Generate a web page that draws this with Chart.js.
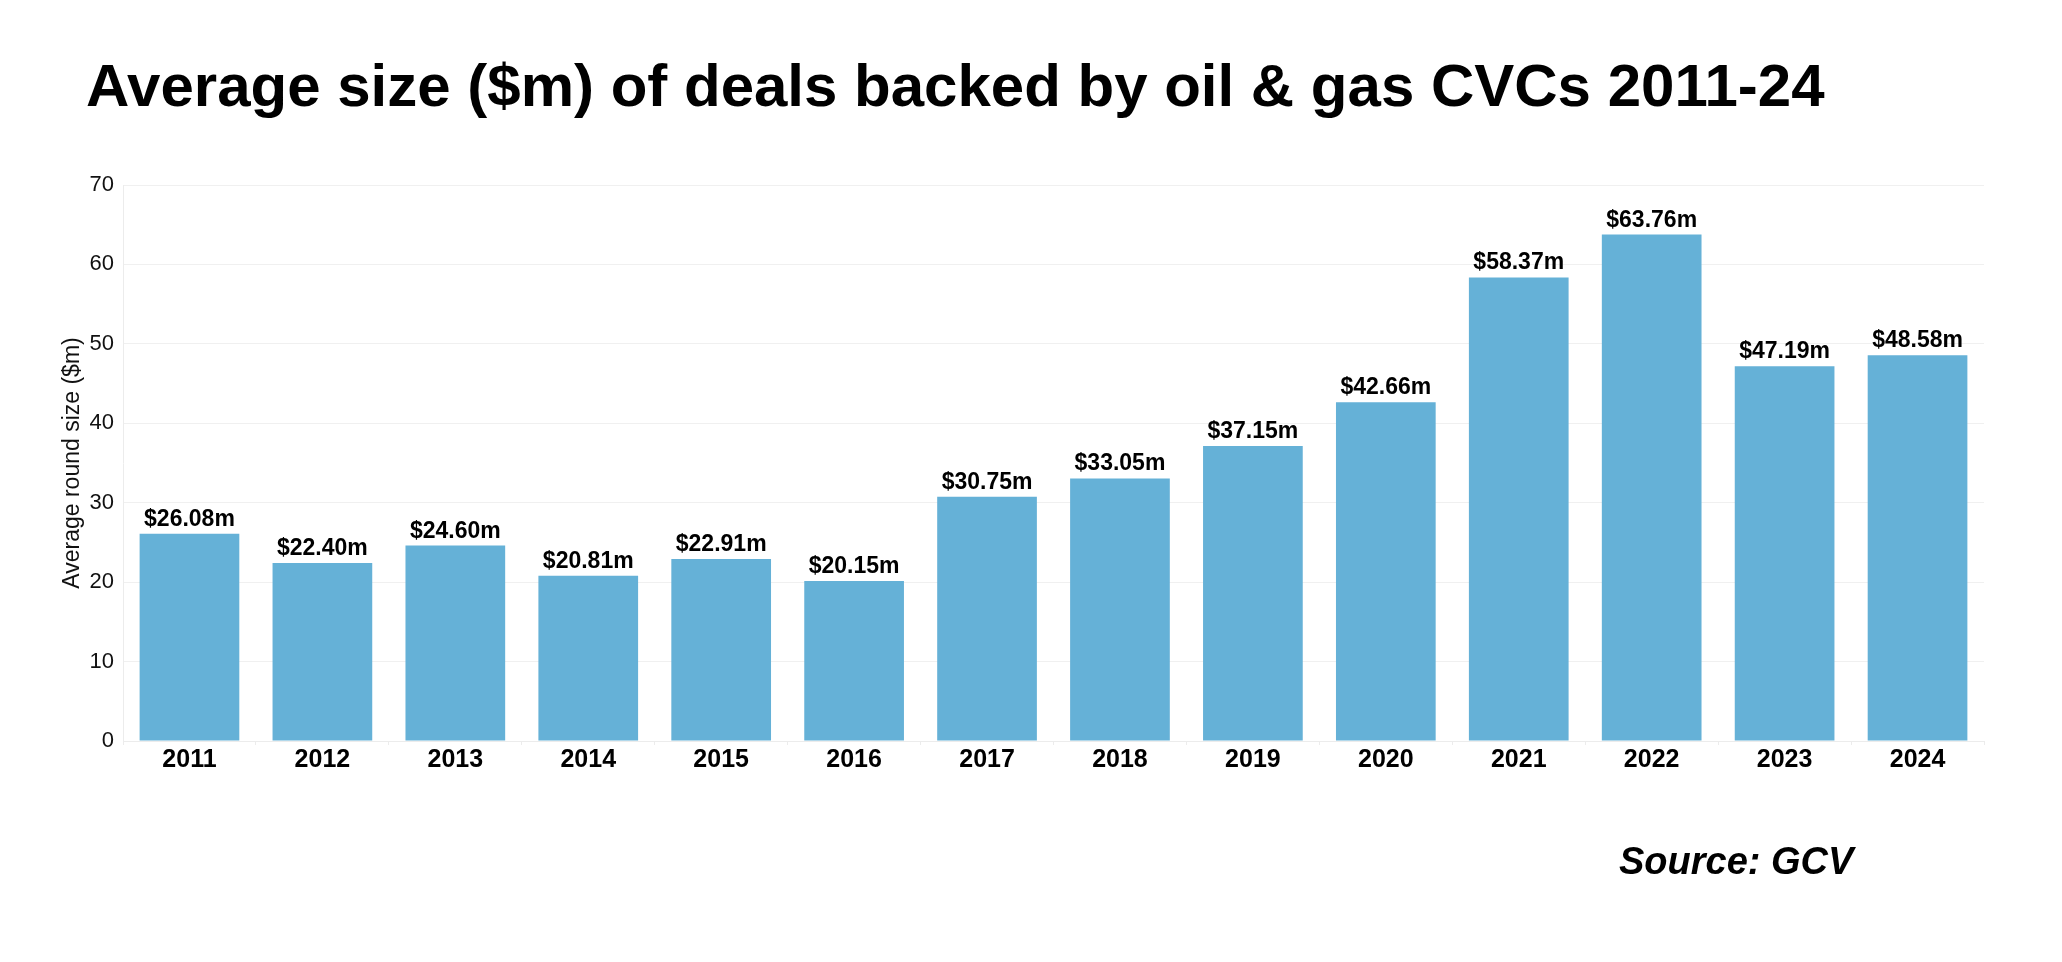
<!DOCTYPE html>
<html>
<head>
<meta charset="utf-8">
<script src="https://cdn.jsdelivr.net/npm/chart.js@4.4.1/dist/chart.umd.min.js"></script>
<style>
  html, body { margin: 0; padding: 0; background: #ffffff; }
  #wrap { width: 2062px; height: 962px; position: relative; }
  canvas { display: block; }
</style>
</head>
<body>
<div id="wrap"><canvas id="c" width="2062" height="962"></canvas></div>
<script>
const titleText = "Average size ($m) of deals backed by oil & gas CVCs 2011-24";
const sourceText = "Source: GCV";
const yAxisTitle = "Average round size ($m)";
const years = ["2011","2012","2013","2014","2015","2016","2017","2018","2019","2020","2021","2022","2023","2024"];
const avgSize = [26.08, 22.40, 24.60, 20.81, 22.91, 20.15, 30.75, 33.05, 37.15, 42.66, 58.37, 63.76, 47.19, 48.58];
const yTicksMin = 0, yTicksMax = 70, yTicksStep = 10;

const FONT = "'Liberation Sans', Arial, Helvetica, sans-serif";
const BAR = "#65b1d7";

const textPlugin = {
  id: 'textPlugin',
  afterDraw(chart) {
    const ctx = chart.ctx;
    ctx.save();
    ctx.fillStyle = "#000000";
    ctx.textAlign = "left";
    ctx.textBaseline = "alphabetic";
    ctx.font = "bold 60px " + FONT;
    ctx.fillText(titleText, 86, 106);
    ctx.font = "italic bold 38px " + FONT;
    ctx.fillText(sourceText, 1619, 874);
    ctx.restore();
  }
};

const valueLabels = {
  id: 'valueLabels',
  afterDatasetsDraw(chart) {
    const ctx = chart.ctx;
    const meta = chart.getDatasetMeta(0);
    ctx.save();
    ctx.fillStyle = "#000000";
    ctx.font = "bold 23px " + FONT;
    ctx.textAlign = "center";
    ctx.textBaseline = "alphabetic";
    meta.data.forEach((bar, i) => {
      const v = chart.data.datasets[0].data[i];
      ctx.fillText("$" + v.toFixed(2) + "m", bar.x, bar.y - 8);
    });
    ctx.restore();
  }
};

new Chart(document.getElementById('c'), {
  type: 'bar',
  data: {
    labels: years,
    datasets: [{
      data: avgSize,
      backgroundColor: BAR,
      borderWidth: 0,
      barPercentage: 0.75,
      categoryPercentage: 1.0
    }]
  },
  options: {
    responsive: false,
    devicePixelRatio: 1,
    animation: false,
    layout: { padding: { top: 185, right: 78, bottom: 181, left: 0 } },
    plugins: {
      legend: { display: false },
      title: { display: false },
      tooltip: { enabled: false }
    },
    scales: {
      x: {
        grid: { display: true, drawOnChartArea: false, drawTicks: true, tickLength: 4, color: "#ececec", offset: true },
        border: { display: true, color: "#ececec" },
        ticks: { color: "#000000", font: { family: FONT, size: 25, weight: 'bold' }, padding: 0, maxRotation: 0, autoSkip: false },
        afterFit(scale) { scale.height = 40; }
      },
      y: {
        min: yTicksMin,
        max: yTicksMax,
        grid: { color: "#f0f0f0", drawTicks: false },
        border: { display: true, color: "#ececec" },
        ticks: { stepSize: yTicksStep, color: "#111111", font: { family: FONT, size: 22 }, padding: 9 },
        title: { display: true, text: yAxisTitle, color: "#111111", font: { family: FONT, size: 23 }, padding: { top: 59, bottom: 0 } },
        afterFit(scale) { scale.width = 123; }
      }
    }
  },
  plugins: [valueLabels, textPlugin]
});
</script>
</body>
</html>
